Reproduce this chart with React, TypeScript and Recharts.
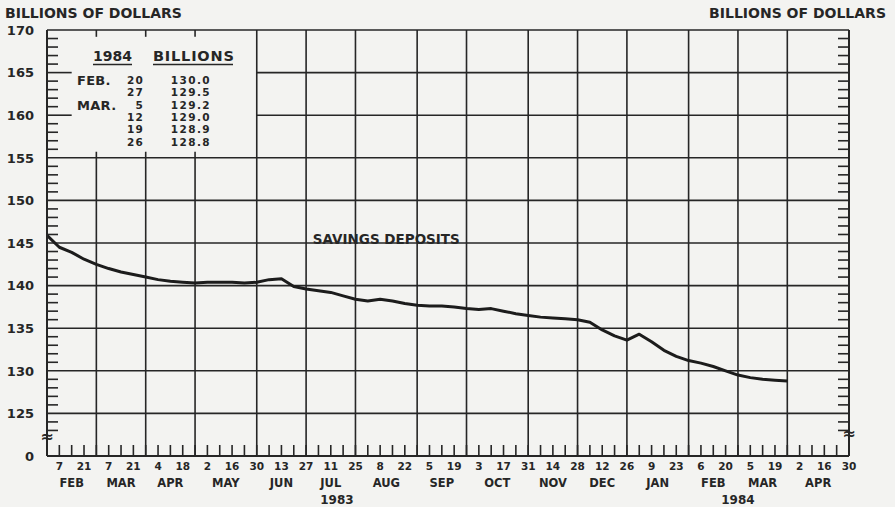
import { Line, LineChart, ReferenceArea, ReferenceDot, ReferenceLine, XAxis, YAxis } from 'recharts'

// weekly savings deposits, billions of dollars, week 0 = Jan 31 1983
const savings = [
  145.9, 144.5, 143.9, 143.1, 142.5, 142.0, 141.6, 141.3, 141.0, 140.7,
  140.5, 140.4, 140.3, 140.4, 140.4, 140.4, 140.3, 140.4, 140.7, 140.8,
  139.9, 139.6, 139.4, 139.2, 138.8, 138.4, 138.2, 138.4, 138.2, 137.9,
  137.7, 137.6, 137.6, 137.5, 137.3, 137.2, 137.3, 137.0, 136.7, 136.5,
  136.3, 136.2, 136.1, 136.0, 135.7, 134.8, 134.1, 133.6, 134.3, 133.4,
  132.4, 131.7, 131.2, 130.9, 130.5, 130.0, 129.5, 129.2, 129.0, 128.9,
  128.8,
]

const monthNames = ['FEB', 'MAR', 'APR', 'MAY', 'JUN', 'JUL', 'AUG', 'SEP', 'OCT', 'NOV', 'DEC', 'JAN', 'FEB', 'MAR', 'APR']
const weeksPerMonth = [4, 4, 4, 5, 4, 4, 5, 4, 5, 4, 4, 5, 4, 4, 5]
const dayLabels = [
  '7', '21', '7', '21', '4', '18', '2', '16', '30', '13', '27', '11', '25', '8', '22', '5', '19',
  '3', '17', '31', '14', '28', '12', '26', '9', '23', '6', '20', '5', '19', '2', '16', '30',
]
const years = [
  { label: '1983', week: 23.5 },
  { label: '1984', week: 56 },
]
const yTicks = [120, 125, 130, 135, 140, 145, 150, 155, 160, 165, 170]
const tableRows = [
  { month: 'FEB.', day: '20' },
  { month: '', day: '27' },
  { month: 'MAR.', day: '5' },
  { month: '', day: '12' },
  { month: '', day: '19' },
  { month: '', day: '26' },
]

const INK = '#262626'
const BG = '#f3f3f1'
const FONT = '"DejaVu Sans", sans-serif'
const TOTAL_WEEKS = 65
const Y_MIN = 120
const Y_MAX = 170

const data = savings.map((value, week) => ({ week, value }))

const months: { name: string; end: number; center: number }[] = []
weeksPerMonth.reduce((start, n, i) => {
  months.push({ name: monthNames[i], end: start + n, center: start + n / 2 })
  return start + n
}, 0)

const dayTicks = dayLabels.map((_, i) => 2 * i + 1)
const weekTicks = Array.from({ length: TOTAL_WEEKS - 1 }, (_, i) => i + 1)
const minorYTicks = Array.from({ length: 47 }, (_, i) => 123 + i).filter((v) => v % 5 !== 0)
const fullHLines = [125, 130, 135, 140, 145, 150, 155, 170]
const insetVLines = months.map((m) => m.end).filter((w) => w <= 12)
const fullVLines = months.map((m) => m.end).filter((w) => w > 12 && w < TOTAL_WEEKS)

const textStyle = { fill: INK, fontWeight: 700, fontFamily: FONT }
const tickStroke = { stroke: INK, strokeWidth: 1.6 }

function DayTick(props: any) {
  const { x, payload } = props
  const label = dayLabels[dayTicks.indexOf(payload.value)]
  return (
    <text x={x} y={470} textAnchor="middle" fontSize={10.5} {...textStyle}>
      {label}
    </text>
  )
}

function LeftTick(props: any) {
  const { x, y, payload } = props
  return (
    <text x={x} y={y + 4.7} textAnchor="end" fontSize={13} {...textStyle}>
      {payload.value === Y_MIN ? '0' : payload.value}
    </text>
  )
}

function RightTick(props: any) {
  const { x, y, payload } = props
  const zero = payload.value === Y_MIN
  return (
    <text x={zero ? x + 10 : x} y={y + 4.7} textAnchor="start" fontSize={13} {...textStyle}>
      {zero ? '0' : payload.value}
    </text>
  )
}

const weekMark = (p: any) => <line x1={p.cx} x2={p.cx} y1={p.cy} y2={p.cy - 11} {...tickStroke} />
const leftMark = (p: any) => <line x1={p.cx} x2={p.cx + 11} y1={p.cy} y2={p.cy} {...tickStroke} />
const rightMark = (p: any) => <line x1={p.cx} x2={p.cx - 11} y1={p.cy} y2={p.cy} {...tickStroke} />
const belowText = (label: string, dy: number, size: number) => (p: any) => (
  <text x={p.cx} y={p.cy + dy} textAnchor="middle" fontSize={size} {...textStyle}>
    {label}
  </text>
)
const breakMark = (p: any) => (
  <text x={p.cx} y={p.cy + 5} textAnchor="middle" fontSize={16} {...textStyle}>
    ≈
  </text>
)

function Overlay() {
  const last = savings.slice(-tableRows.length)
  return (
    <svg width={895} height={507} style={{ position: 'absolute', left: 0, top: 0, pointerEvents: 'none' }}>
      <text x={5} y={18} fontSize={14} {...textStyle}>BILLIONS OF DOLLARS</text>
      <text x={886} y={18} fontSize={14} textAnchor="end" {...textStyle}>BILLIONS OF DOLLARS</text>
      <text x={93} y={61} fontSize={14} {...textStyle}>1984</text>
      <line x1={93} x2={132} y1={64.5} y2={64.5} stroke={INK} strokeWidth={1.6} />
      <text x={153} y={61} fontSize={14.5} letterSpacing={0.8} {...textStyle}>BILLIONS</text>
      <line x1={153} x2={233} y1={64.5} y2={64.5} stroke={INK} strokeWidth={1.6} />
      {tableRows.map((row, i) => {
        const base = 84 + i * 12.3
        return (
          <g key={i}>
            {row.month && <text x={77} y={base + 1} fontSize={13} letterSpacing={0.3} {...textStyle}>{row.month}</text>}
            <text x={144} y={base} fontSize={10.5} letterSpacing={1.2} textAnchor="end" {...textStyle}>{row.day}</text>
            <text x={211} y={base} fontSize={10.5} letterSpacing={1.4} textAnchor="end" {...textStyle}>{last[i].toFixed(1)}</text>
          </g>
        )
      })}
    </svg>
  )
}

export default function App() {
  const ax = { xAxisId: 'day', yAxisId: 'left' }
  const grid = { stroke: INK, strokeWidth: 1.6 }
  return (
    <div style={{ position: 'absolute', left: 0, top: 0, width: 895, height: 507, background: BG }}>
      <LineChart width={895} height={507} data={data} margin={{ top: 30, right: 0, bottom: 0, left: 0 }}>
        <XAxis
          xAxisId="day"
          dataKey="week"
          type="number"
          domain={[0, TOTAL_WEEKS]}
          ticks={dayTicks}
          interval={0}
          height={51}
          tickLine={false}
          axisLine={{ stroke: INK, strokeWidth: 2 }}
          tick={<DayTick />}
        />
        <YAxis
          yAxisId="left"
          domain={[Y_MIN, Y_MAX]}
          ticks={yTicks}
          interval={0}
          width={47}
          tickLine={false}
          tickMargin={7}
          axisLine={{ stroke: INK, strokeWidth: 2 }}
          tick={<LeftTick />}
        />
        <YAxis
          yAxisId="right"
          orientation="right"
          domain={[Y_MIN, Y_MAX]}
          ticks={yTicks}
          interval={0}
          width={46}
          tickLine={false}
          tickMargin={7}
          axisLine={{ stroke: INK, strokeWidth: 2 }}
          tick={<RightTick />}
        />

        {fullHLines.map((v) => (
          <ReferenceLine key={'h' + v} {...ax} y={v} {...grid} />
        ))}
        {[160, 165].map((v) => (
          <ReferenceLine key={'hs' + v} {...ax} segment={[{ x: 17, y: v }, { x: TOTAL_WEEKS, y: v }]} {...grid} />
        ))}
        {[160, 165].map((v) => (
          <ReferenceLine key={'hl' + v} {...ax} segment={[{ x: 0, y: v }, { x: 2, y: v }]} {...grid} />
        ))}
        {fullVLines.map((w) => (
          <ReferenceLine key={'v' + w} {...ax} x={w} {...grid} />
        ))}
        {insetVLines.map((w) => (
          <ReferenceLine key={'vi' + w} {...ax} segment={[{ x: w, y: Y_MIN }, { x: w, y: 155.7 }]} {...grid} />
        ))}
        {insetVLines.map((w) => (
          <ReferenceLine key={'vt' + w} {...ax} segment={[{ x: w, y: 169.2 }, { x: w, y: Y_MAX }]} {...grid} />
        ))}

        {weekTicks.map((w) => (
          <ReferenceDot key={'wt' + w} {...ax} x={w} y={Y_MIN} r={0} shape={weekMark} />
        ))}
        {minorYTicks.map((v) => (
          <ReferenceDot key={'ml' + v} {...ax} x={0} y={v} r={0} shape={leftMark} />
        ))}
        {minorYTicks.map((v) => (
          <ReferenceDot key={'mr' + v} {...ax} x={TOTAL_WEEKS} y={v} r={0} shape={rightMark} />
        ))}
        {months.map((m, i) => (
          <ReferenceDot key={'mn' + i} {...ax} x={m.center} y={Y_MIN} r={0} shape={belowText(m.name, 31, 11.5)} />
        ))}
        {years.map((yr) => (
          <ReferenceDot key={'yr' + yr.label} {...ax} x={yr.week} y={Y_MIN} r={0} shape={belowText(yr.label, 48, 12)} />
        ))}
        <ReferenceDot {...ax} x={0} y={122.2} r={0} shape={breakMark} />
        <ReferenceDot {...ax} x={TOTAL_WEEKS} y={122.6} r={0} shape={breakMark} />

        <ReferenceArea
          {...ax}
          x1={21.2}
          x2={33.8}
          y1={144.1}
          y2={146.7}
          fill={BG}
          fillOpacity={1}
          stroke="none"
          label={{ value: 'SAVINGS DEPOSITS', position: 'center', fill: INK, fontSize: 13.5, fontWeight: 700, fontFamily: FONT }}
        />

        <Line
          {...ax}
          type="linear"
          dataKey="value"
          stroke="#1c1c1c"
          strokeWidth={3}
          strokeLinejoin="round"
          dot={false}
          isAnimationActive={false}
        />
      </LineChart>
      <Overlay />
    </div>
  )
}
